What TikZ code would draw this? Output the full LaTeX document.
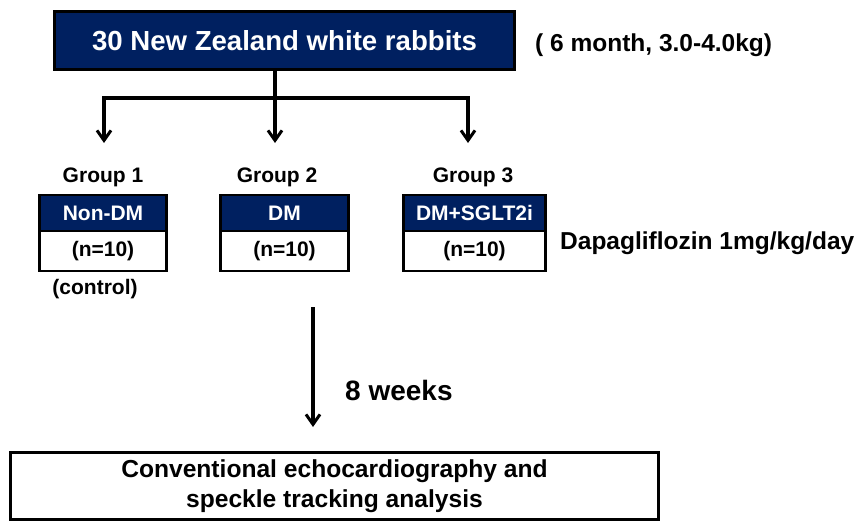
\documentclass[tikz,border=0pt]{standalone}
\usepackage{fontspec}
\setmainfont{Liberation Sans}
\usetikzlibrary{arrows.meta}
\definecolor{navy}{RGB}{0,32,96}

\begin{document}
\begin{tikzpicture}[x=1pt,y=-1pt,
		box/.style={draw=black,line width=2.8pt,inner sep=0pt},
		hdr/.style={box,fill=navy,text=white,minimum height=36pt,font=\bfseries\fontsize{21}{25}\selectfont},
		cell/.style={box,fill=white,minimum height=40pt,font=\bfseries\fontsize{21}{25}\selectfont},
		lbl/.style={inner sep=0pt,font=\bfseries\fontsize{21}{25}\selectfont},
		side/.style={inner sep=0pt,anchor=west,font=\bfseries\fontsize{24.5}{29}\selectfont},
		arr/.style={line width=3.4pt,-{Straight Barb[length=10pt,width=14pt,line width=3pt]}}]
				\useasboundingbox (0,0) rectangle (860,522);
				\node[box,fill=navy,text=white,minimum width=460pt,minimum height=58pt,font=\bfseries\fontsize{27.6}{33}\selectfont] (rabbits) at (284.5,40.5) {30 New Zealand white rabbits};
				\node[side] (age) at (535,45) {( 6 month, 3.0-4.0kg)};
				\coordinate (split) at (275,98);
				\coordinate (l) at (104,98);
				\coordinate (r) at (468,98);
				\coordinate (t1) at (104,143);
				\coordinate (t2) at (275,143);
				\coordinate (t3) at (468,143);
				\draw[arr] (rabbits.south -| split) -- (t2);
				\draw[arr] (split) -- (l) -- (t1);
				\draw[arr] (split) -- (r) -- (t3);
				\node[lbl] (g1) at (103,177) {Group 1};
				\node[lbl] (g2) at (277,177) {Group 2};
				\node[lbl] (g3) at (473,177) {Group 3};
				\node[hdr,minimum width=127pt] (g1h) at (103,213) {Non-DM};
				\node[cell,minimum width=127pt] (g1b) at (103,251) {(n=10)};
				\node[hdr,minimum width=128pt] (g2h) at (284.5,213) {DM};
				\node[cell,minimum width=128pt] (g2b) at (284.5,251) {(n=10)};
				\node[hdr,minimum width=142pt] (g3h) at (474.5,213) {DM+SGLT2i};
				\node[cell,minimum width=142pt] (g3b) at (474.5,251) {(n=10)};
				\node[lbl] (ctrl) at (95,289) {(control)};
				\node[side] (dose) at (560,243) {Dapagliflozin 1mg/kg/day};
				\coordinate (w0) at (313,307);
				\coordinate (w1) at (313,427);
				\draw[arr] (w0) -- (w1);
				\node[side,font=\bfseries\fontsize{28}{33}\selectfont] (weeks) at (345,390) {8 weeks};
				\node[box,minimum width=648pt,minimum height=67pt,align=center,font=\bfseries\fontsize{24.6}{30}\selectfont] (echo) at (334.5,486) {Conventional echocardiography and\\speckle tracking analysis};
			\end{tikzpicture}
\end{document}
